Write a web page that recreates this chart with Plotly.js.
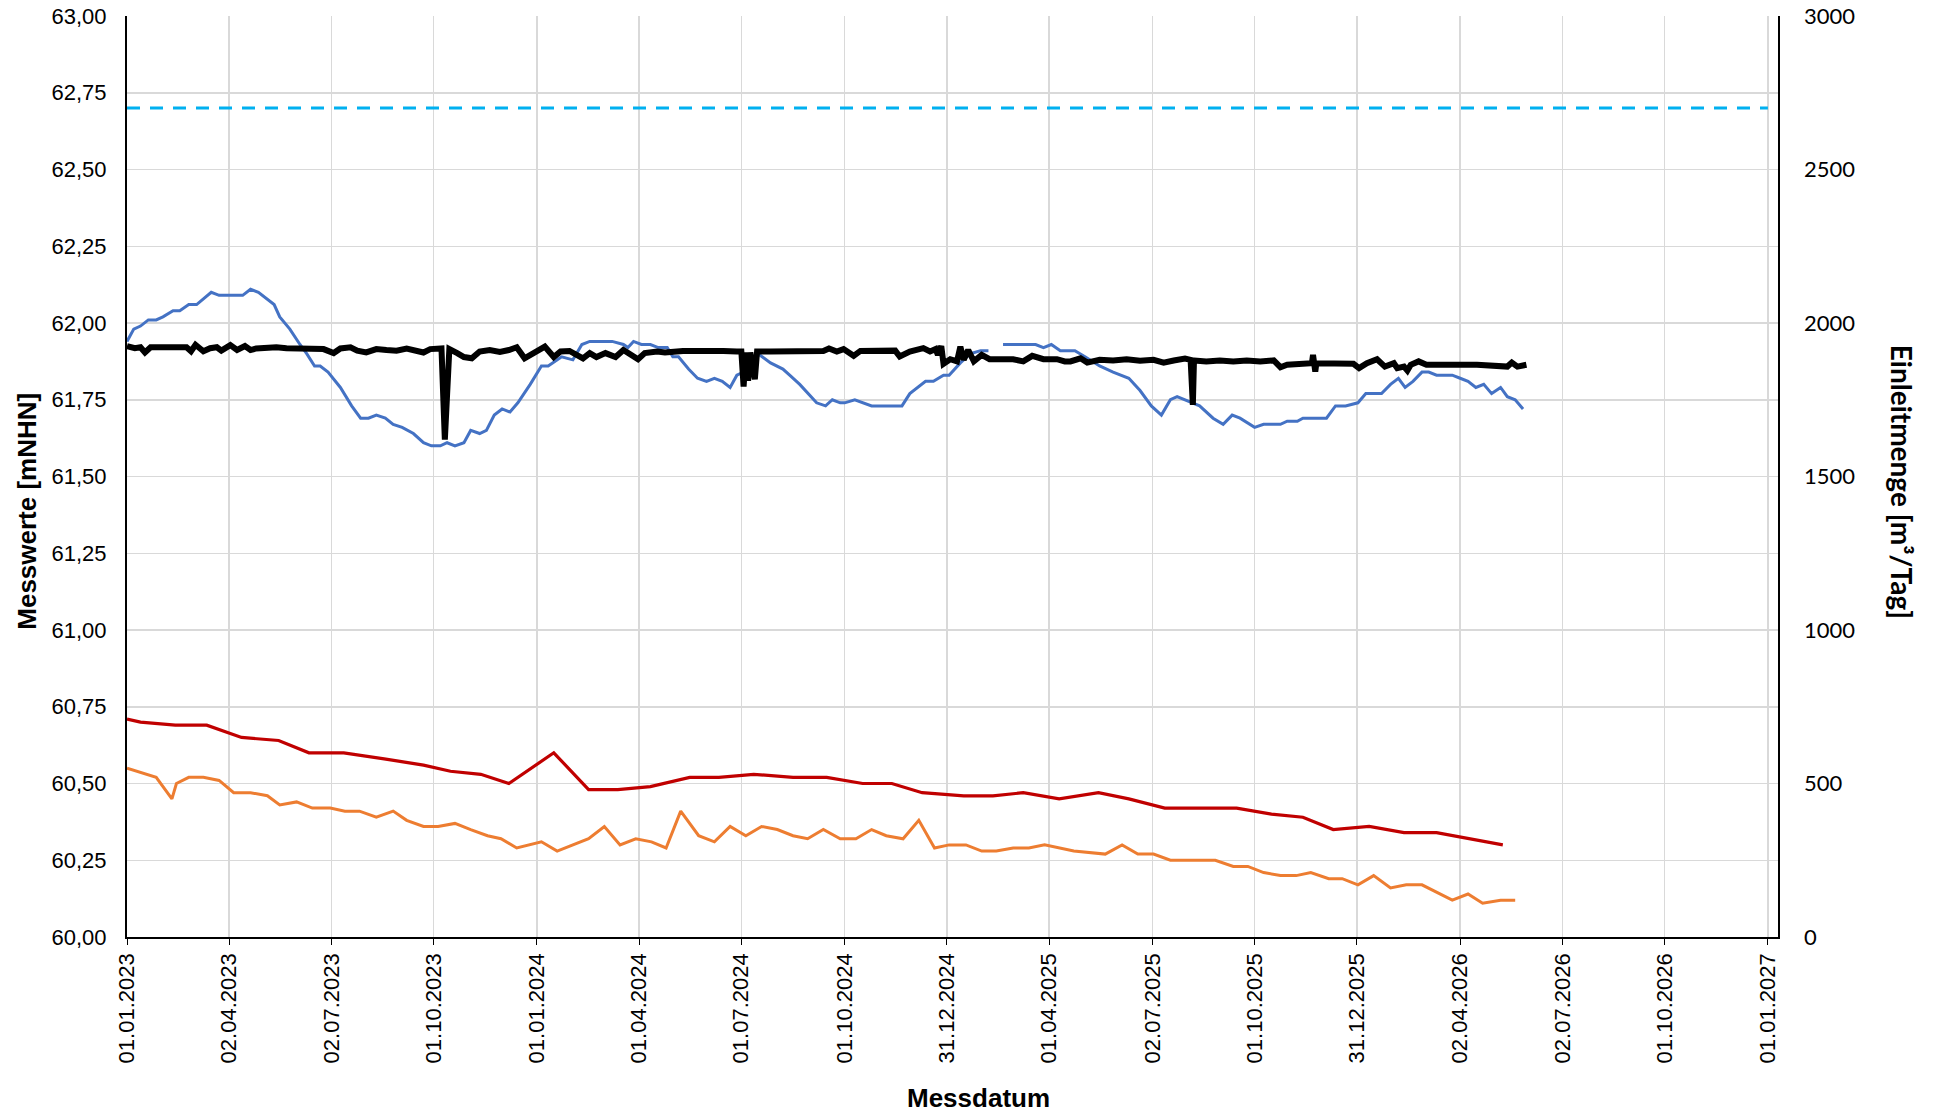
<!DOCTYPE html>
<html>
<head>
<meta charset="utf-8">
<script src="https://cdn.plot.ly/plotly-3.0.1.min.js"></script>
<style>html,body{margin:0;padding:0;background:#fff;}#chart{width:1937px;height:1114px;}</style>
</head>
<body>
<div id="chart"></div>
<script>
// ---- data (x values are days since 01.01.2023) ----
const tickDates = ['2023-01-01','2023-04-02','2023-07-02','2023-10-01','2024-01-01','2024-04-01','2024-07-01','2024-10-01','2024-12-31','2025-04-01','2025-07-02','2025-10-01','2025-12-31','2026-04-02','2026-07-02','2026-10-01','2027-01-01'];
const tickLabels = ['01.01.2023','02.04.2023','02.07.2023','01.10.2023','01.01.2024','01.04.2024','01.07.2024','01.10.2024','31.12.2024','01.04.2025','02.07.2025','01.10.2025','31.12.2025','02.04.2026','02.07.2026','01.10.2026','01.01.2027'];

const blueDays = [0,6,12,19,26,32,41,47,55,62,75,82,103,110,117,124,131,136,145,154,160,167,172,179,190,200,208,215,222,230,237,245,255,264,271,279,285,292,300,306,314,320,327,334,341,348,359,369,375,387,397,405,412,421,432,442,446,451,458,466,473,481,486,491,500,508,516,523,530,537,543,549,562,573,584,590,599,614,622,628,635,639,648,663,690,697,711,718,727,732,742,751,760,767,774,780,809,816,823,831,844,853,866,878,892,902,912,921,929,935,942,948,955,967,976,984,991,1004,1012,1027,1033,1042,1047,1068,1076,1085,1096,1103,1117,1125,1132,1138,1145,1153,1159,1166,1180,1187,1194,1201,1208,1215,1223,1229,1236,1243];
const blueValues = [61.94,61.98,61.99,62.01,62.01,62.02,62.04,62.04,62.06,62.06,62.10,62.09,62.09,62.11,62.10,62.08,62.06,62.02,61.98,61.93,61.90,61.86,61.86,61.84,61.79,61.73,61.69,61.69,61.70,61.69,61.67,61.66,61.64,61.61,61.60,61.60,61.61,61.60,61.61,61.65,61.64,61.65,61.70,61.72,61.71,61.74,61.80,61.86,61.86,61.89,61.88,61.93,61.94,61.94,61.94,61.93,61.92,61.94,61.93,61.93,61.92,61.92,61.89,61.89,61.85,61.82,61.81,61.82,61.81,61.79,61.83,61.84,61.90,61.87,61.85,61.83,61.80,61.74,61.73,61.75,61.74,61.74,61.75,61.73,61.73,61.77,61.81,61.81,61.83,61.83,61.87,61.90,61.91,61.91,null,61.93,61.93,61.92,61.93,61.91,61.91,61.89,61.86,61.84,61.82,61.78,61.73,61.70,61.75,61.76,61.75,61.74,61.73,61.69,61.67,61.70,61.69,61.66,61.67,61.67,61.68,61.68,61.69,61.69,61.73,61.73,61.74,61.77,61.77,61.80,61.82,61.79,61.81,61.84,61.84,61.83,61.83,61.82,61.81,61.79,61.80,61.77,61.79,61.76,61.75,61.72];

const redDays = [0,12,43,71,102,135,162,193,229,264,288,315,340,380,411,437,466,501,527,558,593,623,655,681,708,745,771,798,830,865,892,924,988,1019,1047,1074,1106,1137,1166,1225];
const redValues = [60.71,60.70,60.69,60.69,60.65,60.64,60.60,60.60,60.58,60.56,60.54,60.53,60.50,60.60,60.48,60.48,60.49,60.52,60.52,60.53,60.52,60.52,60.50,60.50,60.47,60.46,60.46,60.47,60.45,60.47,60.45,60.42,60.42,60.40,60.39,60.35,60.36,60.34,60.34,60.30];

const orangeDays = [0,26,40,44,55,68,82,95,110,125,136,151,165,181,194,207,222,237,249,264,277,292,306,321,333,347,369,383,411,425,439,453,467,480,493,509,523,537,551,565,579,593,606,620,635,649,663,676,691,705,719,732,747,761,774,789,803,817,843,871,886,900,914,929,969,985,998,1012,1027,1041,1054,1070,1082,1096,1110,1125,1139,1153,1180,1194,1207,1223,1236];
const orangeValues = [60.55,60.52,60.45,60.50,60.52,60.52,60.51,60.47,60.47,60.46,60.43,60.44,60.42,60.42,60.41,60.41,60.39,60.41,60.38,60.36,60.36,60.37,60.35,60.33,60.32,60.29,60.31,60.28,60.32,60.36,60.30,60.32,60.31,60.29,60.41,60.33,60.31,60.36,60.33,60.36,60.35,60.33,60.32,60.35,60.32,60.32,60.35,60.33,60.32,60.38,60.29,60.30,60.30,60.28,60.28,60.29,60.29,60.30,60.28,60.27,60.30,60.27,60.27,60.25,60.25,60.23,60.23,60.21,60.20,60.20,60.21,60.19,60.19,60.17,60.20,60.16,60.17,60.17,60.12,60.14,60.11,60.12,60.12];

const blackDays = [0,7,12,16,21,29,38,47,53,57,61,68,74,80,84,92,98,105,110,115,124,133,142,154,166,175,184,190,199,205,213,222,231,240,249,258,264,270,280,283,287,294,300,307,314,323,332,340,347,354,362,372,380,386,394,400,406,412,418,426,435,442,449,455,461,472,479,487,495,507,519,531,543,547,549,551,553,555,559,561,573,590,605,620,625,632,638,647,653,668,684,688,697,709,715,720,722,725,727,733,739,742,745,749,754,761,768,777,789,798,806,816,828,835,840,849,855,866,878,890,902,914,923,932,942,947,949,950,961,973,985,997,1009,1021,1027,1033,1045,1055,1056,1058,1059,1068,1080,1092,1097,1104,1113,1120,1128,1131,1137,1140,1143,1150,1157,1172,1187,1202,1217,1229,1233,1238,1246];
const blackValues = [1925,1918,1921,1904,1921,1921,1925,1923,1921,1908,1929,1908,1918,1921,1910,1928,1912,1925,1912,1917,1919,1921,1918,1918,1916,1915,1902,1917,1921,1910,1904,1915,1912,1910,1917,1912,1904,1915,1917,1620,1915,1902,1889,1885,1907,1912,1906,1912,1921,1885,1902,1923,1889,1907,1909,1899,1885,1902,1889,1902,1889,1912,1896,1882,1902,1907,1904,1907,1909,1909,1910,1909,1907,1907,1793,1904,1812,1904,1817,1907,1907,1909,1909,1909,1917,1907,1915,1893,1909,1910,1910,1891,1907,1918,1907,1915,1896,1925,1867,1882,1875,1923,1880,1912,1875,1896,1882,1882,1882,1875,1893,1882,1882,1875,1875,1885,1871,1880,1878,1882,1877,1880,1871,1878,1884,1880,1733,1878,1875,1878,1875,1878,1875,1878,1856,1864,1869,1869,1896,1842,1869,1869,1869,1867,1853,1869,1882,1858,1869,1853,1858,1845,1864,1875,1864,1866,1864,1864,1861,1858,1871,1858,1864];

const limitDays = [0, 1461];
const limitValues = [62.70, 62.70];

// ---- helpers ----
const START = Date.UTC(2023, 0, 1);
function dayToDate(d) { return new Date(START + d * 86400000).toISOString().slice(0, 10); }
const toDates = arr => arr.map(dayToDate);

const traces = [
  {x: toDates(limitDays), y: limitValues, type: 'scatter', mode: 'lines', line: {color: '#00b0f0', width: 3, dash: '13px,10px'}, hoverinfo: 'skip', showlegend: false},
  {x: toDates(orangeDays), y: orangeValues, type: 'scatter', mode: 'lines', line: {color: '#ed7d31', width: 3}, showlegend: false},
  {x: toDates(redDays), y: redValues, type: 'scatter', mode: 'lines', line: {color: '#c00000', width: 3.2}, showlegend: false},
  {x: toDates(blueDays), y: blueValues, type: 'scatter', mode: 'lines', connectgaps: false, line: {color: '#4472c4', width: 3}, showlegend: false},
  {x: toDates(blackDays), y: blackValues, yaxis: 'y2', type: 'scatter', mode: 'lines', line: {color: '#000000', width: 6}, showlegend: false}
];

const W = 1937, H = 1114;
const L = 127, R = 1778, T = 16, B = 937.5;
const pw = R - L, ph = B - T;

const layout = {
  width: W, height: H,
  margin: {l: L, r: W - R, t: T, b: H - B, pad: 0},
  paper_bgcolor: '#ffffff', plot_bgcolor: '#ffffff',
  separators: ',.',
  showlegend: false,
  font: {family: 'Liberation Sans, Arial, sans-serif', color: '#000'},
  xaxis: {
    type: 'date',
    range: [dayToDate(0), dayToDate(1470)],
    tickmode: 'array', tickvals: tickDates, ticktext: tickLabels,
    tickangle: -90,
    tickfont: {family: 'Liberation Sans, Arial, sans-serif', size: 22, color: '#000'},
    showgrid: true, gridcolor: '#d9d9d9', gridwidth: 1.5,
    showline: true, linecolor: '#000', linewidth: 1.5,
    ticks: 'outside', ticklen: 6, tickcolor: '#000', tickwidth: 1,
    zeroline: false
  },
  yaxis: {
    range: [60, 63], dtick: 0.25, tick0: 60, tickformat: '.2f',
    tickfont: {family: 'Liberation Sans, Arial, sans-serif', size: 22, color: '#000'},
    showgrid: true, gridcolor: '#d9d9d9', gridwidth: 1.5,
    showline: true, linecolor: '#000', linewidth: 2,
    ticks: 'outside', ticklen: 14, tickcolor: 'rgba(0,0,0,0)',
    zeroline: false
  },
  yaxis2: {
    overlaying: 'y', side: 'right',
    range: [0, 3000], dtick: 500, tick0: 0, tickformat: 'd',
    tickfont: {family: 'Lato, Open Sans, sans-serif', size: 22, color: '#000'},
    showgrid: false,
    showline: true, linecolor: '#000', linewidth: 1.5,
    ticks: 'outside', ticklen: 20, tickcolor: 'rgba(0,0,0,0)',
    zeroline: false
  },
  annotations: [
    {text: '<b>Messwerte [mNHN]</b>', xref: 'paper', yref: 'paper',
     x: (27 - L) / pw, y: (B - 512) / ph, showarrow: false, textangle: -90,
     font: {family: 'Liberation Sans, Arial, sans-serif', size: 26, color: '#000'}, xanchor: 'center', yanchor: 'middle'},
    {text: '<b>Messdatum</b>', xref: 'paper', yref: 'paper',
     x: (978 - L) / pw, y: (B - 1099) / ph, showarrow: false,
     font: {family: 'Liberation Sans, Arial, sans-serif', size: 26, color: '#000'}, xanchor: 'center', yanchor: 'middle'},
    {text: '<b>Einleitmenge [m³/Tag]</b>', xref: 'paper', yref: 'paper',
     x: (1902 - L) / pw, y: (B - 482) / ph, showarrow: false, textangle: 90,
     font: {family: 'Lato, Open Sans, sans-serif', size: 28, color: '#000'}, xanchor: 'center', yanchor: 'middle'}
  ]
};

Plotly.newPlot('chart', traces, layout, {displayModeBar: false, staticPlot: true});
</script>
</body>
</html>
